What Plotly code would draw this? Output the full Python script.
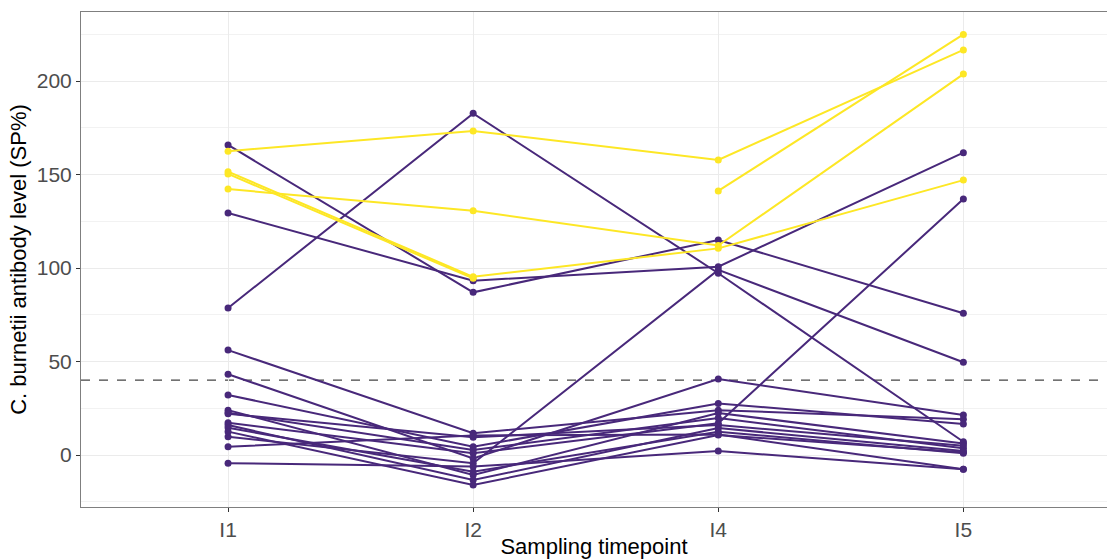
import plotly.graph_objects as go

# Sampling timepoints (categorical x axis)
timepoints = ["I1", "I2", "I4", "I5"]

# SP% values per animal at I1, I2, I4, I5 (None = not sampled)
seropositive_animals = {
    "Y1": [162.5, 173.3, 157.8, 216.6],
    "Y2": [142.2, 130.6, 112.0, 203.7],
    "Y3": [151.5, 95.3, 110.5, 147.0],
    "Y4": [150.3, 94.5, None, None],
    "Y5": [None, None, 141.2, 224.9],
}

other_animals = {
    "P1": [165.8, 87.0, 115.0, 75.8],
    "P2": [129.4, 93.2, 100.7, 161.7],
    "P3": [78.6, 182.7, 97.2, 7.1],
    "P4": [9.8, -4.4, 99.0, 49.6],
    "P5": [17.3, 1.0, 17.0, 136.9],
    "L1": [56.1, 11.6, 24.0, 19.1],
    "L2": [43.2, -1.8, 40.6, 21.4],
    "L3": [32.1, 4.4, 27.6, 16.6],
    "L4": [24.0, -10.7, 22.5, 6.2],
    "L5": [22.6, 2.7, 19.8, 3.6],
    "L6": [22.0, 9.5, 16.0, 5.0],
    "L7": [16.0, -13.4, 14.4, 2.1],
    "L8": [14.6, -8.9, 12.5, 0.9],
    "L9": [12.5, -16.0, 10.7, 1.5],
    "L10": [4.4, 10.5, 11.0, -7.6],
    "L11": [-4.4, -6.2, 2.1, -7.6],
}

cutoff = 40

purple = "#48287A"
yellow = "#FDE725"

fig = go.Figure()

for name, vals in other_animals.items():
    fig.add_trace(go.Scatter(
        x=timepoints, y=vals, mode="lines+markers", name=name,
        line=dict(color=purple, width=2), marker=dict(color=purple, size=7),
        connectgaps=False, showlegend=False,
    ))

for name, vals in seropositive_animals.items():
    fig.add_trace(go.Scatter(
        x=timepoints, y=vals, mode="lines+markers", name=name,
        line=dict(color=yellow, width=2), marker=dict(color=yellow, size=7),
        connectgaps=False, showlegend=False,
    ))

# Positivity cut-off
fig.add_shape(type="line", xref="paper", x0=0, x1=1, yref="y", y0=cutoff, y1=cutoff,
              line=dict(color="#444444", width=1.2, dash="dash"), layer="below")

font_family = "Liberation Sans, Arial, sans-serif"

fig.update_layout(
    width=1107, height=559,
    margin=dict(l=81, r=0, t=12, b=52),
    paper_bgcolor="white", plot_bgcolor="white",
    font=dict(family=font_family, color="black"),
    xaxis=dict(
        type="category", categoryorder="array", categoryarray=timepoints,
        range=[-0.6, 3.586],
        showgrid=True, gridcolor="#EBEBEB", gridwidth=1,
        showline=True, linecolor="#7F7F7F", linewidth=1, mirror=True,
        ticks="outside", ticklen=4, tickcolor="#333333",
        tickfont=dict(size=21, color="#4D4D4D", family=font_family),
        title=dict(text="Sampling timepoint", font=dict(size=22, color="black"), standoff=2),
        zeroline=False,
    ),
    yaxis=dict(
        range=[-27.8, 236.9],
        tickvals=[0, 50, 100, 150, 200],
        showgrid=True, gridcolor="#EBEBEB", gridwidth=1.2,
        minor=dict(tickvals=[-25, 25, 75, 125, 175, 225], showgrid=True,
                   gridcolor="#F2F2F2", gridwidth=0.8),
        showline=True, linecolor="#7F7F7F", linewidth=1,
        ticks="outside", ticklen=4, tickcolor="#333333",
        tickfont=dict(size=21, color="#4D4D4D", family=font_family),
        title=dict(text="C. burnetii antibody level (SP%)", font=dict(size=22, color="black"), standoff=4),
        zeroline=False,
    ),
)

fig.write_html("out.html")
